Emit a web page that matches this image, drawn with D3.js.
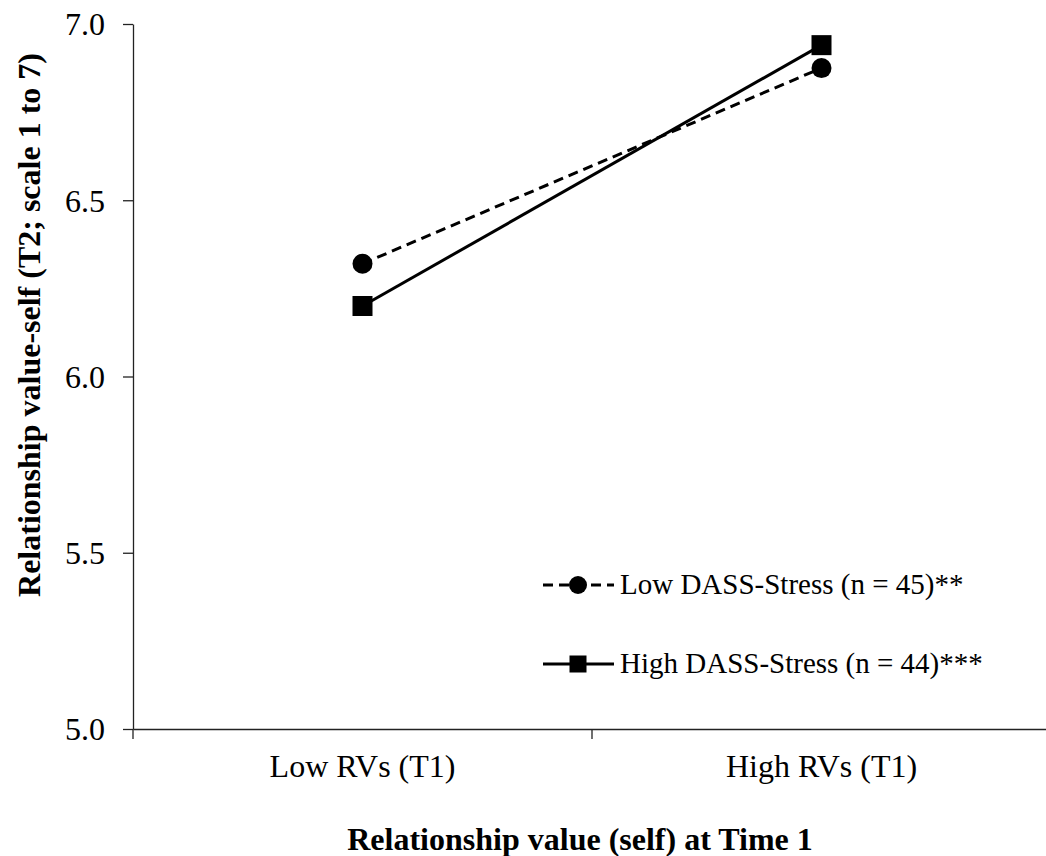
<!DOCTYPE html>
<html>
<head>
<meta charset="utf-8">
<script src="https://cdn.jsdelivr.net/npm/d3@7"></script>
<style>
  body { margin: 0; background: #fff; }
  svg { display: block; font-family: "Liberation Serif", "Times New Roman", serif; }
</style>
</head>
<body>
<script>
const categories = ["Low RVs (T1)", "High RVs (T1)"];

const lowStress = [6.32, 6.875];
const highStress = [6.20, 6.94];

const seriesNames = [
    "Low DASS-Stress (n = 45)**",
    "High DASS-Stress (n = 44)***"
];

const yTicks = [5.0, 5.5, 6.0, 6.5, 7.0];

const width = 1046;
const height = 856;
const fontFam = "Liberation Serif, Times New Roman, serif";

const svg = d3.select("body")
    .append("svg")
    .attr("width", width)
    .attr("height", height);

const xScale = d3.scaleBand()
    .domain(categories)
    .range([133, 1051]);

const yScale = d3.scaleLinear()
    .domain([5, 7])
    .range([729, 24]);

// y axis
const yAxis = svg.append("g")
    .attr("transform", "translate(133,0)")
    .call(d3.axisLeft(yScale).tickValues(yTicks).tickFormat(d3.format(".1f")).tickSize(10).tickSizeOuter(0));
yAxis.select(".domain").attr("stroke", "#222").attr("stroke-width", 1.3);
yAxis.selectAll(".tick line").attr("stroke", "#222").attr("stroke-width", 1.3);
yAxis.selectAll(".tick text")
    .attr("x", -28)
    .attr("dy", "0.34em")
    .attr("font-size", 32)
    .attr("fill", "#000")
    .style("font-family", fontFam);

// x axis
const xAxis = svg.append("g")
    .attr("transform", "translate(0,729)")
    .call(d3.axisBottom(xScale).tickSize(0).tickSizeOuter(0));
xAxis.select(".domain").attr("stroke", "#222").attr("stroke-width", 1.3);
xAxis.selectAll(".tick text")
    .attr("y", 48)
    .attr("dy", 0)
    .attr("font-size", 32)
    .attr("fill", "#000")
    .style("font-family", fontFam);

// category boundary ticks
svg.append("g")
    .selectAll("line")
    .data(categories)
    .join("line")
    .attr("x1", d => xScale(d))
    .attr("x2", d => xScale(d))
    .attr("y1", 729)
    .attr("y2", 739)
    .attr("stroke", "#222")
    .attr("stroke-width", 1.3);

// axis titles
svg.append("text")
    .attr("x", 580)
    .attr("y", 850)
    .attr("text-anchor", "middle")
    .attr("font-size", 32)
    .attr("font-weight", "bold")
    .text("Relationship value (self) at Time 1");

svg.append("text")
    .attr("transform", "translate(40,325) rotate(-90)")
    .attr("text-anchor", "middle")
    .attr("font-size", 32)
    .attr("font-weight", "bold")
    .text("Relationship value-self (T2; scale 1 to 7)");

const xc = d => xScale(d) + xScale.bandwidth() / 2;

const line = d3.line()
    .x((d, i) => xc(categories[i]))
    .y(d => yScale(d));

// low stress: dashed + circles
svg.append("path")
    .datum(lowStress)
    .attr("d", line)
    .attr("fill", "none")
    .attr("stroke", "#000")
    .attr("stroke-width", 3)
    .attr("stroke-dasharray", "10,6");

// high stress: solid + squares
svg.append("path")
    .datum(highStress)
    .attr("d", line)
    .attr("fill", "none")
    .attr("stroke", "#000")
    .attr("stroke-width", 3);

svg.append("g")
    .selectAll("circle")
    .data(lowStress)
    .join("circle")
    .attr("cx", (d, i) => xc(categories[i]))
    .attr("cy", d => yScale(d))
    .attr("r", 10)
    .attr("fill", "#000");

svg.append("g")
    .selectAll("rect")
    .data(highStress)
    .join("rect")
    .attr("x", (d, i) => xc(categories[i]) - 10)
    .attr("y", d => yScale(d) - 10)
    .attr("width", 20)
    .attr("height", 20)
    .attr("fill", "#000");

// legend
const legend = svg.append("g");
const legendY = [585, 664];

legend.append("line")
    .attr("x1", 543).attr("x2", 614)
    .attr("y1", legendY[0]).attr("y2", legendY[0])
    .attr("stroke", "#000").attr("stroke-width", 3)
    .attr("stroke-dasharray", "10,6");
legend.append("circle")
    .attr("cx", 578).attr("cy", legendY[0]).attr("r", 9).attr("fill", "#000");

legend.append("line")
    .attr("x1", 543).attr("x2", 614)
    .attr("y1", legendY[1]).attr("y2", legendY[1])
    .attr("stroke", "#000").attr("stroke-width", 3);
legend.append("rect")
    .attr("x", 569.5).attr("y", legendY[1] - 8.5).attr("width", 17).attr("height", 17).attr("fill", "#000");

legend.selectAll("text")
    .data(seriesNames)
    .join("text")
    .attr("x", 620)
    .attr("y", (d, i) => legendY[i] + 9)
    .attr("font-size", 29)
    .style("font-family", fontFam)
    .text(d => d);
</script>
</body>
</html>
